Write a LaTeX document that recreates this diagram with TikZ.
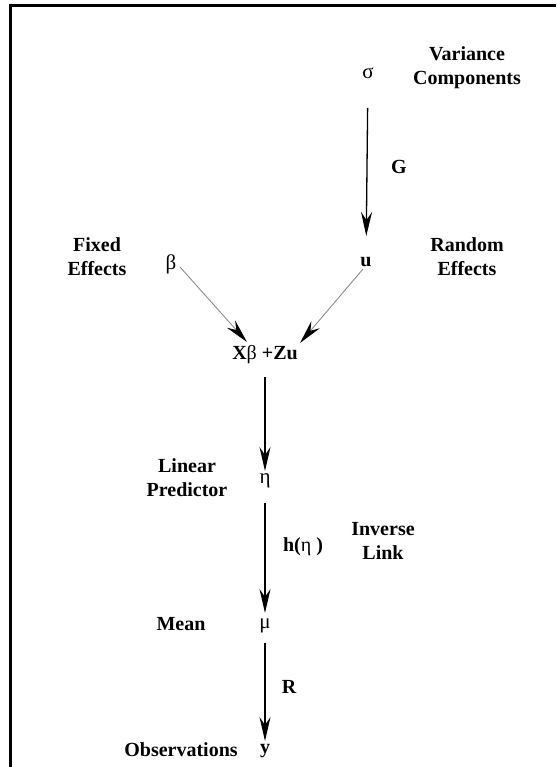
\documentclass[tikz,border=0pt]{standalone}
\usepackage{fontspec}
\setmainfont{Liberation Serif}
\usetikzlibrary{arrows.meta}
\tikzset{
  lbl/.style ={font=\fontsize{20}{24}\selectfont\bfseries,align=center,inner sep=0pt},
  sym/.style ={font=\fontsize{21}{24}\selectfont,inner sep=0pt},
  flow/.style={-{Stealth[length=24pt,width=11pt,inset=8pt]},line width=1.3pt,draw=black},
  feed/.style={-{Stealth[length=24pt,width=11pt,inset=8pt,color=black,fill=black]},line width=0.9pt,draw=black!45},
}
\begin{document}
\begin{tikzpicture}[x=1pt,y=-1pt]
  \useasboundingbox (0,0) rectangle (556,767);
  \draw[line width=3pt] (556,6) -- (10,6) -- (10,767);
  % variance part
  \node[sym] (sigma)  at (368,73)  {σ};
  \node[lbl] (varc)   at (467,68)  {Variance\\Components};
  \node[lbl] (glab)   at (399,167) {G};
  \node[lbl] (u)      at (366,262) {u};
  \node[lbl] (random) at (467,257) {Random\\Effects};
  \node[sym] (beta)   at (171,264) {β};
  \node[lbl] (fixed)  at (97,257)  {Fixed\\Effects};
  % linear part
  \node[lbl] (lin)     at (265,355) {X{\mdseries β} +Zu};
  \node[sym] (eta)     at (265,481) {η};
  \node[lbl] (linpred) at (187,478) {Linear\\Predictor};
  \node[lbl] (hlab)    at (303,547) {h({\mdseries η} )};
  \node[lbl] (invlink) at (383,541) {Inverse\\Link};
  \node[sym] (mu)      at (265,626) {μ};
  \node[lbl] (mean)    at (181,624) {Mean};
  \node[lbl] (rlab)    at (289,687) {R};
  \node[lbl] (y)       at (265,751) {y};
  \node[lbl] (obs)     at (181,750) {Observations};
  \draw[flow,shorten <=35pt,shorten >=26pt] (sigma.center) -- (u.center);
  \draw[feed] ([shift={(9,3)}]beta.center) -- ([shift={(-18,-13)}]lin.center);
  \draw[feed] ([shift={(-3,7)}]u.center) -- ([shift={(35,-12)}]lin.center);
  \draw[flow,shorten <=22pt,shorten >=10pt] (lin.center) -- (eta.center);
  \draw[flow,shorten <=22pt,shorten >=13pt] (eta.center) -- (mu.center);
  \draw[flow,shorten <=17pt,shorten >=10pt] (mu.center) -- (y.center);
\end{tikzpicture}
\end{document}
